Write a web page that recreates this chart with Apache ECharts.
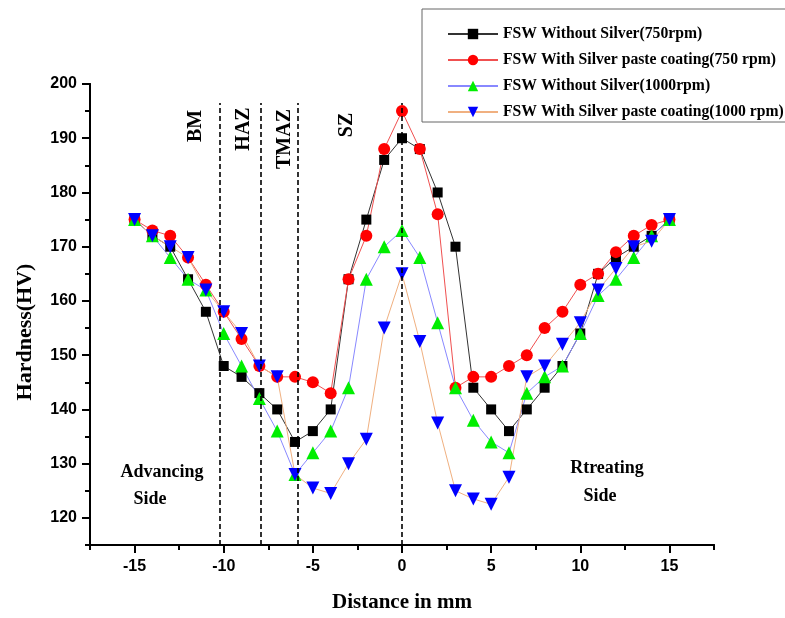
<!DOCTYPE html>
<html>
<head>
<meta charset="utf-8">
<script src="https://cdn.jsdelivr.net/npm/echarts@6/dist/echarts.min.js"></script>
<style>html,body{margin:0;padding:0;background:#fff}#c{width:785px;height:618px}</style>
</head>
<body>
<div id="c"></div>
<script>
const distance = [-15,-14,-13,-12,-11,-10,-9,-8,-7,-6,-5,-4,-3,-2,-1,0,1,2,3,4,5,6,7,8,9,10,11,12,13,14,15];
const noSilver750 = [175,172,170,164,158,148,146,143,140,134,136,140,164,175,186,190,188,180,170,144,140,136,140,144,148,154,165,168,170,172,175];
const silver750 = [175,173,172,168,163,158,153,148,146,146,145,143,164,172,188,195,188,176,144,146,146,148,150,155,158,163,165,169,172,174,175];
const noSilver1000 = [175,172,168,164,162,154,148,142,136,128,132,136,144,164,170,173,168,156,144,138,134,132,143,146,148,154,161,164,168,172,175];
const silver1000 = [175,172,170,168,162,158,154,148,146,128,125.5,124.5,130,134.5,155,165,152.5,137.5,125,123.5,122.5,127.5,146,148,152,156,162,166,170,171,175];
const seriesNames = ['FSW Without Silver(750rpm)','FSW With Silver paste coating(750 rpm)','FSW Without Silver(1000rpm)','FSW With Silver paste coating(1000 rpm)'];
const xTicks = [-15,-10,-5,0,5,10,15];
const xMinorTicks = [-17.5,-12.5,-7.5,-2.5,2.5,7.5,12.5,17.5];
const yTicks = [120,130,140,150,160,170,180,190,200];
const yMinorTicks = [115,125,135,145,155,165,175,185,195];
const zoneBoundaries = [-10.2,-7.9,-5.85,0];
const zoneLabels = ['BM','HAZ','TMAZ','SZ'];

const serif = '"Liberation Serif", "Times New Roman", serif';
const sans = '"Liberation Sans", Arial, sans-serif';
const pair = arr => distance.map((x,i)=>[x,arr[i]]);

const chart = echarts.init(document.getElementById('c'), null, {renderer:'canvas'});
const axisLine = {show:true, onZero:false, lineStyle:{color:'#000', width:2}};
const baseX = {type:'value', min:-17.5, max:17.5, position:'bottom', splitLine:{show:false}, axisLine: axisLine};
const baseY = {type:'value', min:115, max:200, position:'left', splitLine:{show:false}, axisLine: axisLine};

const option = {
  animation:false,
  backgroundColor:'#fff',
  grid:{left:90, right:71, top:84, bottom:69, containLabel:false},
  legend:{
    orient:'vertical', left:422, top:9,
    padding:[17,20,2,25],
    borderColor:'#666', borderWidth:1, backgroundColor:'#fff',
    itemWidth:50, itemHeight:13, itemGap:10,
    textStyle:{fontFamily:serif, fontWeight:'bold', fontSize:15.7, color:'#000'},
    data: seriesNames
  },
  xAxis:[
    Object.assign({}, baseX, {
      name:'Distance in mm', nameLocation:'middle', nameGap:47,
      nameTextStyle:{fontFamily:serif, fontWeight:'bold', fontSize:21, color:'#000'},
      axisTick:{show:true, inside:false, length:8, lineStyle:{color:'#000', width:2}, customValues:xTicks},
      axisLabel:{show:true, margin:14, fontFamily:sans, fontWeight:'bold', fontSize:16, color:'#000', customValues:xTicks}
    }),
    Object.assign({}, baseX, {
      axisTick:{show:true, inside:false, length:5, lineStyle:{color:'#000', width:2}, customValues:xMinorTicks},
      axisLabel:{show:false}
    })
  ],
  yAxis:[
    Object.assign({}, baseY, {
      axisTick:{show:true, inside:false, length:8, lineStyle:{color:'#000', width:2}, customValues:yTicks},
      axisLabel:{show:true, margin:13, fontFamily:sans, fontWeight:'bold', fontSize:16, color:'#000', customValues:yTicks}
    }),
    Object.assign({}, baseY, {
      axisTick:{show:true, inside:false, length:5, lineStyle:{color:'#000', width:2}, customValues:yMinorTicks},
      axisLabel:{show:false}
    })
  ],
  series:[
    {
      name:seriesNames[0], type:'line', data:pair(noSilver750),
      symbol:'rect', symbolSize:10,
      itemStyle:{color:'#000'}, lineStyle:{color:'#333', width:1},
      markLine:{
        silent:true, symbol:'none', animation:false,
        label:{show:false},
        lineStyle:{color:'#000', width:1.6, type:[5,3]},
        data: zoneBoundaries.map(x => [{coord:[x,115]},{coord:[x,196.5]}])
      }
    },
    {
      name:seriesNames[1], type:'line', data:pair(silver750),
      symbol:'circle', symbolSize:12,
      itemStyle:{color:'#ff0000'}, lineStyle:{color:'#f05050', width:1}
    },
    {
      name:seriesNames[2], type:'line', data:pair(noSilver1000),
      symbol:'triangle', symbolSize:13,
      itemStyle:{color:'#00ee00'}, lineStyle:{color:'#8888ff', width:1}
    },
    {
      name:seriesNames[3], type:'line', data:pair(silver1000),
      symbol:'triangle', symbolRotate:180, symbolSize:13,
      itemStyle:{color:'#0000ff'}, lineStyle:{color:'#f0b080', width:1}
    }
  ],
  graphic:[
    {type:'text', x:25, y:332, rotation:Math.PI/2, style:{text:'Hardness(HV)', font:'bold 22px '+serif, fill:'#000', align:'center', verticalAlign:'middle'}},
    {type:'text', x:196, y:126, rotation:Math.PI/2, style:{text:zoneLabels[0], font:'bold 20px '+serif, fill:'#000', align:'center', verticalAlign:'middle'}},
    {type:'text', x:244, y:129, rotation:Math.PI/2, style:{text:zoneLabels[1], font:'bold 20px '+serif, fill:'#000', align:'center', verticalAlign:'middle'}},
    {type:'text', x:285, y:139, rotation:Math.PI/2, style:{text:zoneLabels[2], font:'bold 20px '+serif, fill:'#000', align:'center', verticalAlign:'middle'}},
    {type:'text', x:347, y:125, rotation:Math.PI/2, style:{text:zoneLabels[3], font:'bold 20px '+serif, fill:'#000', align:'center', verticalAlign:'middle'}},
    {type:'text', x:162, y:472, style:{text:'Advancing', font:'bold 18px '+serif, fill:'#000', align:'center', verticalAlign:'middle'}},
    {type:'text', x:150, y:499, style:{text:'Side', font:'bold 18px '+serif, fill:'#000', align:'center', verticalAlign:'middle'}},
    {type:'text', x:607, y:468, style:{text:'Rtreating', font:'bold 18px '+serif, fill:'#000', align:'center', verticalAlign:'middle'}},
    {type:'text', x:600, y:496, style:{text:'Side', font:'bold 18px '+serif, fill:'#000', align:'center', verticalAlign:'middle'}}
  ]
};
chart.setOption(option);
</script>
</body>
</html>
